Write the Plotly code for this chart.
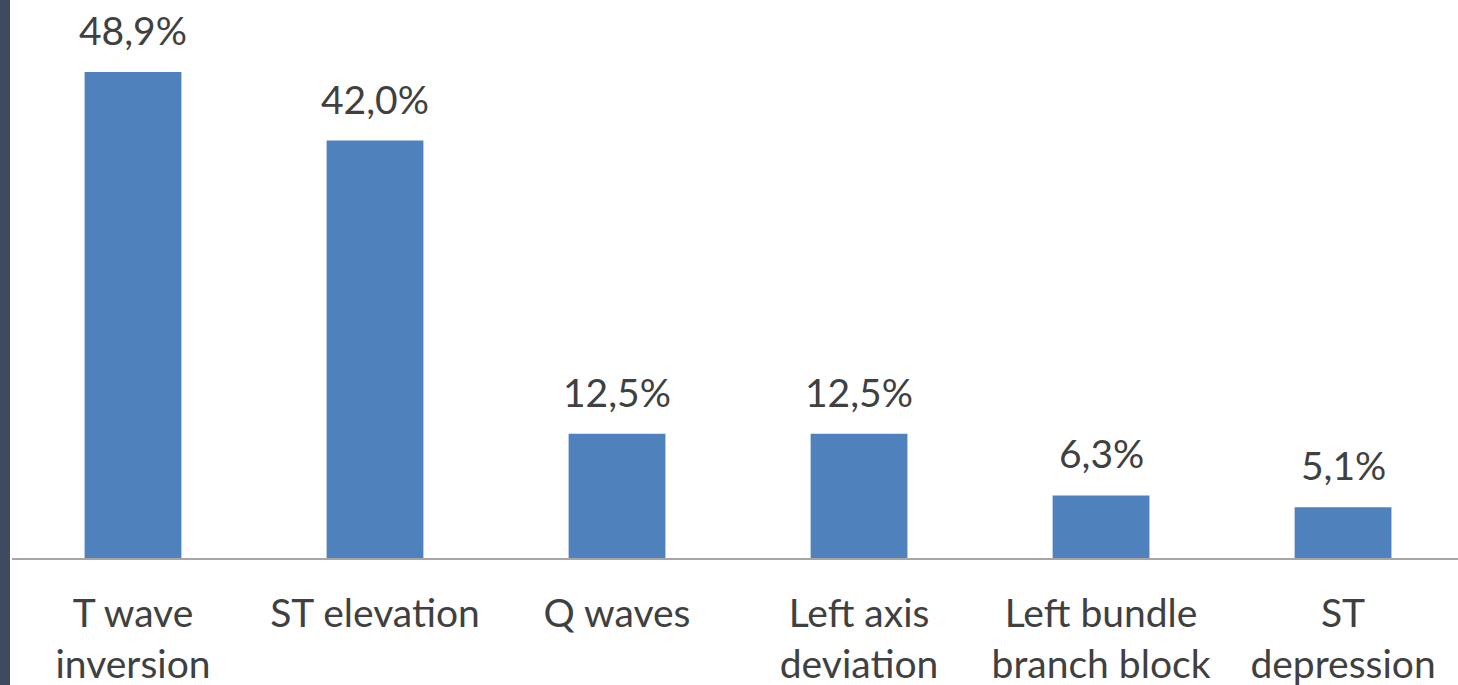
import plotly.graph_objects as go

categories = ["T wave<br>inversion", "ST elevation", "Q waves",
              "Left axis<br>deviation", "Left bundle<br>branch block", "ST<br>depression"]
values = [48.9, 42.0, 12.5, 12.5, 6.3, 5.1]
value_labels = ["48,9%", "42,0%", "12,5%", "12,5%", "6,3%", "5,1%"]

BAR = "#4F81BD"
TEXT = "#404040"
FONT = "Lato"

fig = go.Figure(go.Bar(
    x=categories, y=values,
    marker=dict(color=BAR, line=dict(width=0)),
    hoverinfo="skip",
))

for cat, val, lab in zip(categories, values, value_labels):
    fig.add_annotation(
        x=cat, y=val, text=lab, showarrow=False,
        yanchor="bottom", yshift=17,
        font=dict(family=FONT, size=39, color=TEXT),
    )

# dark strip down the left edge
fig.add_shape(type="rect", xref="paper", yref="paper",
              x0=-12 / 1446, x1=-2 / 1446, y0=-0.3, y1=1.0,
              fillcolor="#3E4A5E", line=dict(width=0), layer="above")

fig.update_layout(
    width=1458, height=685,
    margin=dict(l=12, r=0, t=0, b=127),
    paper_bgcolor="white", plot_bgcolor="white",
    bargap=0.6, showlegend=False,
    font=dict(family=FONT, color=TEXT),
)
fig.update_xaxes(
    range=[-0.5, 5.475], showline=True, linecolor="#A6A6A6", linewidth=2,
    ticks="", showgrid=False, zeroline=False, automargin=False,
    tickfont=dict(family=FONT, size=39, color=TEXT),
    ticklabelstandoff=20,
)
fig.update_yaxes(range=[0, 56.14], visible=False, showgrid=False, zeroline=False)

fig.write_html("out.html")
